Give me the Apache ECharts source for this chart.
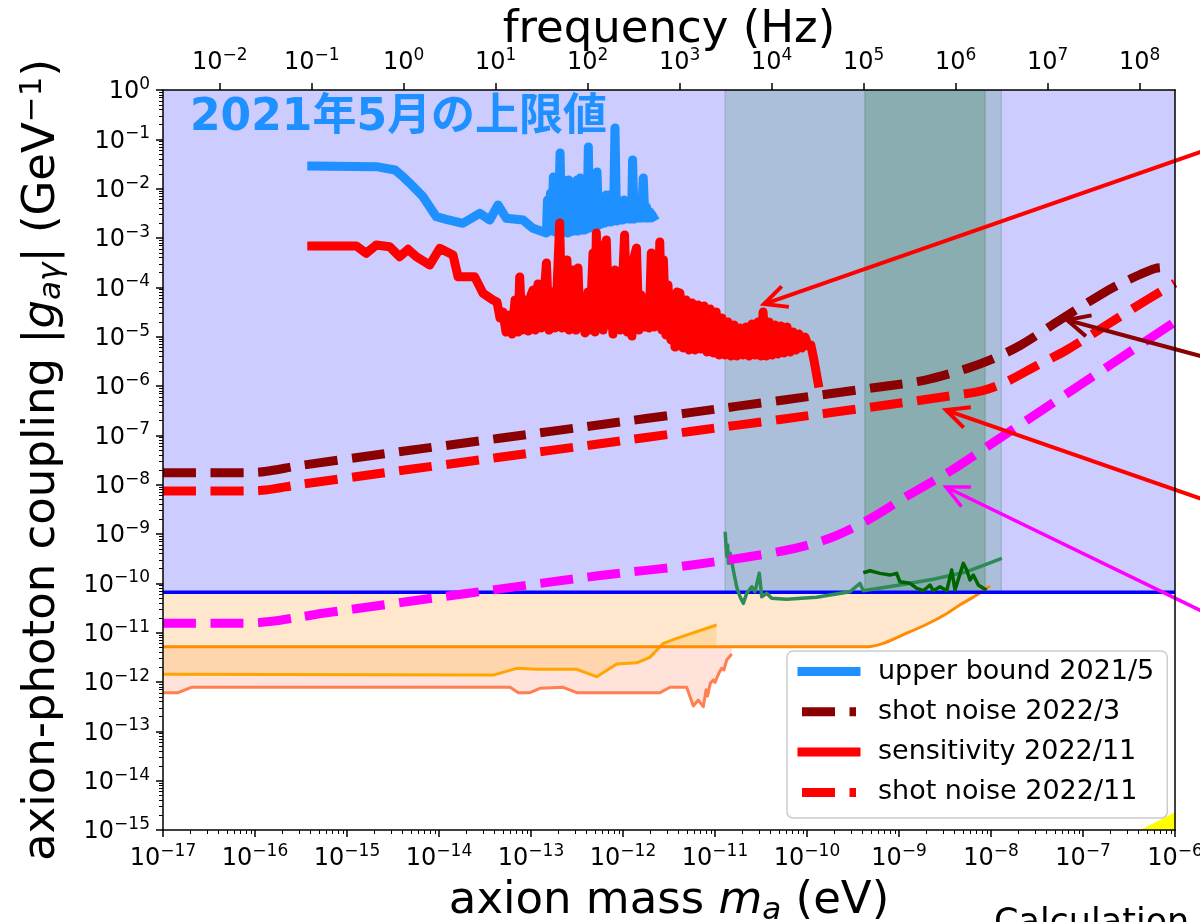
<!DOCTYPE html>
<html><head><meta charset="utf-8">
<script src="https://cdn.jsdelivr.net/npm/echarts@6/dist/echarts.min.js"></script>
<style>html,body{margin:0;padding:0;background:#fff}#c{width:1200px;height:922px}</style>
</head><body><div id="c"></div>
<script>
// ---------- axis ranges & ticks ----------
const HZ_PER_EV = 2.418e14;
const massMin = 1e-17, massMax = 1e-6, gMin = 1e-15, gMax = 1;
const freqTicks = [1e-2, 1e-1, 1, 1e1, 1e2, 1e3, 1e4, 1e5, 1e6, 1e7, 1e8];
const xMinorDecades = [-17,-16,-15,-14,-13,-12,-11,-10,-9,-8,-7];
const yMinorDecades = [-15,-14,-13,-12,-11,-10,-9,-8,-7,-6,-5,-4,-3,-2,-1];
const minorMult = [2,3,4,5,6,7,8,9];

// ---------- upper bound 2021/5 (blue) ----------
const ubMass = [4.14e-16,2.08e-15,3.33e-15,4.06e-15,4.81e-15,6.70e-15,9.35e-15,1.20e-14,1.82e-14,2.77e-14,3.56e-14,4.38e-14,5.39e-14,8.19e-14,1.05e-13,
  1.47e-13,1.51e-13,1.57e-13,1.63e-13,1.69e-13,1.75e-13,1.82e-13,1.89e-13,1.97e-13,2.07e-13,2.15e-13,2.23e-13,2.31e-13,2.40e-13,2.49e-13,2.56e-13,2.65e-13,2.75e-13,2.86e-13,2.97e-13,
  3.08e-13,3.16e-13,3.28e-13,3.41e-13,3.54e-13,3.67e-13,3.81e-13,3.96e-13,4.06e-13,4.20e-13,4.32e-13,4.49e-13,4.66e-13,4.75e-13,4.90e-13,5.09e-13,5.22e-13,5.42e-13,5.62e-13,5.84e-13,
  6.06e-13,6.29e-13,6.53e-13,6.78e-13,7.05e-13,7.31e-13,7.59e-13,7.88e-13,8.18e-13,8.50e-13,8.82e-13,9.16e-13,9.51e-13,9.88e-13,1.03e-12,1.06e-12,1.11e-12,1.15e-12,1.19e-12,1.24e-12,
  1.27e-12,1.32e-12,1.37e-12,1.42e-12,1.47e-12,1.53e-12,1.59e-12,1.66e-12,1.73e-12,1.80e-12,1.87e-12,1.97e-12,2.04e-12,2.13e-12];
const ubG = [0.0288,0.0279,0.0239,0.0175,0.0129,0.00688,0.00270,0.00239,0.00199,0.00317,0.00232,0.00467,0.00251,0.00232,0.00157,
  1.26e-3,5.89e-3,1.39e-3,8.17e-3,1.39e-3,1.72e-2,1.32e-3,9.4e-3,1.32e-3,5.28e-2,1.32e-3,1.50e-2,1.32e-3,1.19e-2,1.26e-3,1.50e-2,1.32e-3,6.78e-3,1.39e-3,9.4e-3,
  1.39e-3,1.50e-2,1.39e-3,1.64e-2,1.45e-3,7.44e-3,1.45e-3,1.03e-2,1.52e-3,7.0e-2,1.60e-3,7.44e-3,1.67e-3,1.08e-2,1.75e-3,9.4e-3,2.18e-2,1.83e-3,6.78e-3,1.92e-3,
  5.89e-3,2.01e-3,7.44e-3,2.11e-3,7.44e-3,2.11e-3,4.67e-3,2.21e-3,0.170,2.21e-3,5.89e-3,2.32e-3,4.67e-3,2.32e-3,5.89e-3,2.43e-3,4.45e-3,2.43e-3,4.67e-3,2.43e-3,
  3.81e-2,2.43e-3,4.67e-3,5.37e-3,2.54e-3,3.69e-3,2.54e-3,1.64e-2,2.54e-3,4.25e-3,2.54e-3,3.36e-3,2.54e-3,2.67e-3];

// ---------- sensitivity 2022/11 (red solid) ----------
const sensMass = [4.14e-16,1.26e-15,1.62e-15,2.08e-15,2.91e-15,3.74e-15,4.61e-15,5.66e-15,7.92e-15,1.02e-14,1.42e-14,1.61e-14,2.44e-14,3.01e-14,3.86e-14,
  4.27e-14,4.60e-14,4.96e-14,5.35e-14,5.77e-14,6.22e-14,6.70e-14,7.22e-14,7.54e-14,7.98e-14,8.61e-14,9.28e-14,1.0e-13,1.05e-13,1.11e-13,1.19e-13,1.28e-13,1.38e-13,1.47e-13,1.57e-13,
  1.69e-13,1.82e-13,1.92e-13,2.05e-13,2.17e-13,2.34e-13,2.46e-13,2.59e-13,2.72e-13,2.86e-13,3.08e-13,3.24e-13,3.41e-13,3.67e-13,3.86e-13,4.16e-13,4.38e-13,4.72e-13,4.96e-13,5.13e-13,
  5.48e-13,5.69e-13,6.06e-13,6.58e-13,7.05e-13,7.46e-13,7.78e-13,8.18e-13,8.82e-13,9.28e-13,9.75e-13,1.04e-12,1.11e-12,1.18e-12,1.25e-12,1.30e-12,1.40e-12,1.49e-12,1.57e-12,1.69e-12,
  1.79e-12,1.92e-12,2.03e-12,2.17e-12,2.30e-12,2.40e-12,2.51e-12,2.65e-12,2.75e-12,2.93e-12,3.08e-12,3.32e-12,3.52e-12,3.67e-12,3.86e-12,4.16e-12,
  4.49e-12,4.84e-12,5.21e-12,5.62e-12,6.07e-12,6.53e-12,7.05e-12,7.59e-12,8.18e-12,8.83e-12,9.51e-12,1.03e-11,1.10e-11,1.19e-11,1.29e-11,1.38e-11,1.49e-11,1.61e-11,1.73e-11,1.87e-11,
  2.01e-11,2.17e-11,2.34e-11,2.52e-11,2.72e-11,2.93e-11,3.16e-11,3.33e-11,3.58e-11,3.86e-11,4.17e-11,4.49e-11,4.84e-11,5.21e-11,5.62e-11,6.07e-11,6.53e-11,7.05e-11,7.59e-11,8.18e-11,
  8.83e-11,9.51e-11,1.03e-10,1.10e-10,1.19e-10,1.32e-10];
const sensG = [6.89e-4,6.89e-4,4.89e-4,7.21e-4,6.65e-4,4.18e-4,5.90e-4,4.18e-4,2.83e-4,6.18e-4,4.52e-4,1.64e-4,1.64e-4,7.57e-5,5.53e-5,
  5.04e-5,2.39e-5,3.16e-5,1.24e-5,2.75e-5,1.13e-5,5.53e-5,1.24e-5,1.62e-4,1.36e-5,5.53e-5,1.30e-5,6.98e-5,8.83e-5,1.36e-5,1.17e-4,1.50e-5,5.53e-5,3.11e-4,1.36e-5,
  8.04e-5,1.50e-5,9.68e-5,2.01e-3,1.50e-5,1.11e-4,3.58e-4,1.36e-5,8.83e-5,2.24e-4,1.36e-5,2.47e-4,1.72e-5,5.53e-5,1.19e-5,8.04e-5,1.36e-5,4.96e-4,1.24e-5,1.26e-3,
  1.64e-5,7.21e-4,1.36e-5,9.10e-4,1.72e-5,5.53e-5,1.13e-5,2.24e-4,1.95e-4,1.36e-5,6.98e-5,1.15e-3,1.24e-5,5.53e-5,1.03e-5,3.58e-4,6.26e-4,1.36e-5,6.98e-5,1.57e-5,
  5.53e-5,1.50e-5,4.96e-4,1.57e-5,5.53e-5,1.64e-5,8.30e-4,1.36e-5,3.58e-4,1.08e-5,1.11e-4,8.55e-6,5.53e-5,6.17e-6,8.04e-5,7.67e-5,
  5.89e-6,5.53e-5,5.36e-6,4.81e-5,5.36e-6,4.39e-5,5.62e-6,4.18e-5,4.89e-6,3.64e-5,4.67e-6,3.16e-5,4.25e-6,2.39e-5,4.25e-6,1.98e-5,4.06e-6,1.72e-5,4.06e-6,1.50e-5,
  4.25e-6,1.57e-5,4.06e-6,1.80e-5,4.25e-6,1.98e-5,4.06e-6,3.16e-5,4.06e-6,1.98e-5,4.25e-6,1.72e-5,4.45e-6,1.64e-5,4.67e-6,1.57e-5,4.89e-6,1.24e-5,5.36e-6,1.13e-5,
  5.89e-6,9.84e-6,6.46e-6,6.78e-6,3.37e-6,1.15e-6];

// ---------- shot noise 2022/3 (dark red dashed) ----------
const sn3Mass = [1e-17,7.76e-17,1.29e-16,3.08e-16,2.44e-15,4.33e-14,5.62e-13,5.60e-12,5.58e-11,5.56e-10,1.93e-9,5.53e-9,9.84e-9,2.12e-8,5.62e-8,1.53e-7,2.52e-7,4.17e-7,6.07e-7,7.78e-7,9.55e-7];
const sn3G = [1.75e-8,1.75e-8,1.85e-8,2.44e-8,4.18e-8,8.61e-8,1.64e-7,2.92e-7,5.22e-7,9.31e-7,1.32e-6,2.28e-6,3.37e-6,6.78e-6,2.18e-5,6.98e-5,1.17e-4,1.82e-4,2.41e-4,2.52e-4,2.14e-4];

// ---------- shot noise 2022/11 (red dashed) ----------
const sn11Mass = [1e-17,7.76e-17,1.29e-16,3.08e-16,2.44e-15,4.33e-14,5.62e-13,5.60e-12,5.58e-11,5.56e-10,3.11e-9,8.13e-9,1.45e-8,3.08e-8,6.65e-8,1.81e-7,4.93e-7,1e-6];
const sn11G = [7.43e-9,7.43e-9,7.78e-9,1.01e-8,1.72e-8,3.55e-8,6.76e-8,1.21e-7,2.15e-7,3.84e-7,6.07e-7,8.09e-7,1.20e-6,2.54e-6,5.37e-6,1.73e-5,5.53e-5,1.22e-4];

// ---------- magenta dashed projection ----------
const magMass = [1e-17,7.41e-17,1.46e-16,3.08e-16,5.48e-16,1.82e-14,5.62e-13,5.60e-12,5.58e-11,1.76e-10,4.59e-10,1.19e-9,3.77e-9,9.84e-9,3.41e-8,9.27e-8,2.74e-7,1e-6];
const magG = [1.55e-11,1.55e-11,1.68e-11,2.07e-11,2.47e-11,6.07e-11,1.44e-10,2.35e-10,4.58e-10,8.18e-10,1.92e-9,5.70e-9,1.98e-8,6.52e-8,3.04e-7,1.05e-6,4.0e-6,2.01e-5];

// ---------- CAST-like horizontal bound ----------
const castMass = [1e-17, 1e-6];
const castG = [6.6e-11, 6.6e-11];

// ---------- orange / gold / coral bounds ----------
const orMass = [1e-17,4.59e-10,6.73e-10,1.09e-9,1.93e-9,3.11e-9,4.57e-9,7.0e-9,9.75e-9];
const orG = [5.19e-12,5.19e-12,6.08e-12,8.95e-12,1.43e-11,2.28e-11,3.63e-11,5.79e-11,8.81e-11];
const goldMass = [1e-17,3.89e-14,7.0e-14,1.15e-13,3.14e-13,5.18e-13,8.55e-13,1.41e-12,1.96e-12,2.74e-12,3.84e-12,1.04e-11];
const goldG = [1.43e-12,1.38e-12,1.89e-12,1.81e-12,1.81e-12,1.28e-12,2.31e-12,2.45e-12,3.16e-12,6.08e-12,7.67e-12,1.43e-11];
const coralMass = [1e-17,1.46e-17,1.79e-17,2.03e-17,5.92e-14,7.28e-14,9.75e-14,1.25e-13,2.24e-13,3.14e-13,2.52e-12,3.24e-12,4.92e-12,5.81e-12,6.58e-12,7.46e-12,8.0e-12,8.3e-12,8.9e-12,9.59e-12,1.0e-11,1.1e-11,1.18e-11,1.25e-11,1.34e-11,1.52e-11];
const coralG = [6.07e-13,6.07e-13,7.1e-13,7.81e-13,7.81e-13,6.07e-13,6.07e-13,7.43e-13,7.81e-13,6.07e-13,6.07e-13,7.81e-13,7.81e-13,3.26e-13,4.31e-13,3.16e-13,7.0e-13,5.2e-13,9.5e-13,1.10e-12,9.8e-13,1.5e-12,1.89e-12,1.75e-12,2.79e-12,3.69e-12];

// ---------- green curves ----------
const sgMass = [1.29e-11,1.34e-11,1.37e-11,1.40e-11,1.46e-11,1.58e-11,1.72e-11,1.87e-11,2.03e-11,2.21e-11,2.51e-11,2.72e-11,3.03e-11,3.22e-11,3.65e-11,4.13e-11,6.01e-11,1.27e-10,2.93e-10,3.77e-10,4.09e-10,1.02e-9,2.36e-9,5.45e-9,8.98e-9,1.31e-8];
const sgG = [1.11e-9,3.5e-10,6.0e-10,2.54e-10,4.06e-10,1.86e-10,8.53e-11,5.35e-11,3.93e-11,6.27e-11,8.53e-11,6.76e-11,1.60e-10,5.35e-11,6.27e-11,4.97e-11,4.74e-11,5.20e-11,6.76e-11,1.0e-10,7.08e-11,9.25e-11,1.21e-10,1.72e-10,2.46e-10,3.21e-10];
const dgMass = [4.09e-10,4.84e-10,6.21e-10,7.98e-10,9.44e-10,1.02e-9,1.32e-9,1.56e-9,1.84e-9,2.17e-9,2.36e-9,2.79e-9,3.30e-9,3.74e-9,4.06e-9,5.0e-9,5.45e-9,5.91e-9,6.43e-9,7.28e-9,8.26e-9,8.98e-9];
const dgG = [1.64e-10,1.80e-10,1.59e-10,1.47e-10,1.59e-10,1.08e-10,1.0e-10,7.92e-11,7.08e-11,9.25e-11,7.08e-11,8.53e-11,7.08e-11,1.86e-10,7.31e-11,2.54e-10,1.86e-10,1.17e-10,1.47e-10,9.25e-11,7.92e-11,7.31e-11];

// ---------- vertical bands (mass ranges) ----------
const bandLoMass = [1.29e-11, 4.27e-10];
const bandHiMass = [1.29e-8, 8.6e-9];
const bandFill = ['#abbfdb', '#8aadb1'];
const bandEdge = ['#98adc8', '#7a9e9c'];

// ---------- yellow corner region ----------
const triMass = [4.17e-7, 1e-6, 1e-6];
const triG = [1e-15, 2.3e-15, 1e-15];

// ---------- annotation arrows (tail outside axes -> tip) ----------
const arrowTipMass = [3.41e-11, 6.70e-8, 3.24e-9, 3.24e-9];
const arrowTipG = [4.59e-5, 2.18e-5, 3.26e-7, 8.95e-9];
const arrowTailMass = [2.72e-6, 2.72e-6, 2.72e-6, 2.72e-6];
const arrowTailG = [0.0706, 3.37e-6, 4.13e-9, 2.03e-11];
const arrowColor = ['#ff0000', '#8b0000', '#ff0000', '#ff00ff'];
const arrowWidth = [4, 4, 4, 3.5];

// ---------- helpers ----------
const FONT = 'DejaVu Sans';
function pow10Label(v) {
  const e = Math.round(Math.log10(v));
  return '{b|10}{s|' + (e < 0 ? '\u2212' + (-e) : String(e)) + '}';
}
const richTick = {
  b: {fontFamily: FONT, fontSize: 24, lineHeight: 28, color: '#000', verticalAlign: 'bottom'},
  s: {fontFamily: FONT, fontSize: 17, lineHeight: 17, color: '#000', verticalAlign: 'top'}
};
const richName = {
  t: {fontFamily: FONT, fontSize: 45, lineHeight: 50, color: '#000'},
  i: {fontFamily: FONT, fontSize: 45, lineHeight: 50, color: '#000', fontStyle: 'italic'},
  sub: {fontFamily: FONT, fontSize: 31, lineHeight: 31, color: '#000', fontStyle: 'italic', verticalAlign: 'bottom'},
  sup: {fontFamily: FONT, fontSize: 31, lineHeight: 31, color: '#000', verticalAlign: 'top'}
};
const xMinor = [], yMinor = [];
xMinorDecades.forEach(e => minorMult.forEach(k => xMinor.push(k * Math.pow(10, e))));
yMinorDecades.forEach(e => minorMult.forEach(k => yMinor.push(k * Math.pow(10, e))));

function pairs(ms, gs) { return ms.map((m, i) => [m, gs[i]]); }

function polySeries(name, ms, gs, closeMs, closeGs, fill, z) {
  return {
    name: name, type: 'custom', silent: true, z: z, clip: true,
    data: [[ms[0], gs[0]]],
    renderItem: function (params, api) {
      const pts = [];
      for (let i = 0; i < ms.length; i++) pts.push(api.coord([ms[i], gs[i]]));
      for (let i = 0; i < closeMs.length; i++) pts.push(api.coord([closeMs[i], closeGs[i]]));
      return {type: 'polygon', shape: {points: pts}, style: {fill: fill}};
    }
  };
}
function lineSeries(name, ms, gs, color, width, opts) {
  opts = opts || {};
  return {
    name: name, type: 'line', data: pairs(ms, gs), showSymbol: false, symbol: 'none',
    silent: true, z: 3, clip: true,
    lineStyle: {color: color, width: width, type: opts.dash || 'solid', cap: opts.cap || 'butt', join: 'round'},
    itemStyle: {color: color},
    smooth: opts.smooth || false
  };
}

const orFlat = orG[0];
const series = [
  polySeries('fill-orange', orMass, orG, [orMass[orMass.length - 1], orMass[0]], [gMax, gMax], '#ffe7cd', 1),
  polySeries('fill-coral', coralMass, coralG, [coralMass[coralMass.length - 1], coralMass[0]], [orFlat, orFlat], '#ffe2da', 1),
  polySeries('fill-gold', goldMass, goldG, [goldMass[goldMass.length - 1], goldMass[0]], [orFlat, orFlat], 'rgba(255,165,0,0.2)', 1),
  polySeries('excluded', [massMin, massMax], [castG[0], castG[1]], [massMax, massMin], [gMax, gMax], '#ccccff', 1),
  {
    name: 'bands', type: 'custom', silent: true, z: 1, clip: true,
    data: bandLoMass.map((m, i) => [m, castG[0]]),
    renderItem: function (params, api) {
      const i = params.dataIndex;
      const p0 = api.coord([bandLoMass[i], castG[0]]);
      const p1 = api.coord([bandHiMass[i], gMax]);
      return {type: 'rect', shape: {x: p0[0], y: p1[1], width: p1[0] - p0[0], height: p0[1] - p1[1]},
        style: {fill: bandFill[i], stroke: bandEdge[i], lineWidth: 1.2}};
    }
  },
  polySeries('yellow', triMass, triG, [], [], '#ffff00', 1),
  lineSeries('coral', coralMass, coralG, '#ff7f50', 3),
  lineSeries('gold', goldMass, goldG, '#ffa500', 3),
  lineSeries('darkorange', orMass, orG, '#ff8c00', 3, {smooth: 0.3}),
  lineSeries('cast', castMass, castG, '#0000ff', 3.5),
  lineSeries('seagreen', sgMass, sgG, '#2e8b57', 3.5),
  lineSeries('darkgreen', dgMass, dgG, '#006400', 3.5),
  lineSeries('projection', magMass, magG, '#ff00ff', 9, {dash: [33, 14.5], smooth: 0.3}),
  lineSeries('shot noise 2022/11', sn11Mass, sn11G, '#ff0000', 9, {dash: [33, 14.5], smooth: 0.3}),
  lineSeries('shot noise 2022/3', sn3Mass, sn3G, '#8b0000', 9, {dash: [33, 14.5], smooth: 0.3}),
  lineSeries('upper bound 2021/5', ubMass, ubG, '#1e90ff', 9, {cap: 'square'}),
  lineSeries('sensitivity 2022/11', sensMass, sensG, '#ff0000', 9, {cap: 'square'}),
  {
    name: 'arrows', type: 'custom', silent: true, z: 6, clip: false,
    data: pairs(arrowTipMass, arrowTipG),
    renderItem: function (params, api) {
      const i = params.dataIndex;
      const tip = api.coord([arrowTipMass[i], arrowTipG[i]]);
      const tail = api.coord([arrowTailMass[i], arrowTailG[i]]);
      const ang = Math.atan2(tail[1] - tip[1], tail[0] - tip[0]);
      const L = 25, a = 0.45;
      const p1 = [tip[0] + L * Math.cos(ang + a), tip[1] + L * Math.sin(ang + a)];
      const p2 = [tip[0] + L * Math.cos(ang - a), tip[1] + L * Math.sin(ang - a)];
      const st = {stroke: arrowColor[i], lineWidth: arrowWidth[i], fill: null, lineJoin: 'miter'};
      return {type: 'group', children: [
        {type: 'line', shape: {x1: tail[0], y1: tail[1], x2: tip[0], y2: tip[1]}, style: st},
        {type: 'polyline', shape: {points: [p1, tip, p2]}, style: st}
      ]};
    }
  }
];

const spine = {show: true, onZero: false, lineStyle: {color: '#000', width: 1.5}};
const option = {
  animation: false,
  backgroundColor: '#fff',
  textStyle: {fontFamily: FONT},
  grid: {left: 163, right: 25, top: 90, bottom: 92, containLabel: false, outerBoundsMode: 'none'},
  legend: {
    orient: 'vertical', left: 787, top: 651, padding: [7, 13, 12, 10.5],
    itemWidth: 54, itemHeight: 9, itemGap: 13.3,
    backgroundColor: 'rgba(255,255,255,0.85)', borderColor: '#cccccc', borderWidth: 1.5, borderRadius: 6,
    textStyle: {fontFamily: FONT, fontSize: 27, lineHeight: 27, color: '#000', padding: [0, 0, 0, 17]},
    lineStyle: {width: 9},
    data: ['upper bound 2021/5', 'shot noise 2022/3', 'sensitivity 2022/11', 'shot noise 2022/11']
  },
  xAxis: [
    {type: 'log', logBase: 10, min: massMin, max: massMax, interval: 1, position: 'bottom', z: 10,
      axisLine: spine, splitLine: {show: false},
      axisTick: {show: true, length: 7, lineStyle: {color: '#000', width: 1.5}},
      axisLabel: {margin: 13, formatter: pow10Label, rich: richTick},
      name: '{t|axion mass }{i|m}{sub|a}{t| (eV)}', nameLocation: 'middle', nameGap: 46, nameMoveOverlap: false,
      nameTextStyle: {rich: richName}},
    {type: 'log', logBase: 10, min: massMin * HZ_PER_EV, max: massMax * HZ_PER_EV, position: 'top', z: 10,
      axisLine: spine, splitLine: {show: false},
      axisTick: {show: true, length: 7, lineStyle: {color: '#000', width: 1.5}, customValues: freqTicks},
      axisLabel: {margin: 15, formatter: pow10Label, rich: richTick, customValues: freqTicks},
      name: 'frequency (Hz)', nameLocation: 'middle', nameGap: 37, nameMoveOverlap: false,
      nameTextStyle: {fontFamily: FONT, fontSize: 45, color: '#000'}},
    {type: 'log', logBase: 10, min: massMin, max: massMax, position: 'bottom', z: 10,
      axisLine: {show: false}, splitLine: {show: false}, axisLabel: {show: false},
      axisTick: {show: true, length: 4, lineStyle: {color: '#000', width: 1}, customValues: xMinor}}
  ],
  yAxis: [
    {type: 'log', logBase: 10, min: gMin, max: gMax, interval: 1, position: 'left', z: 10,
      axisLine: spine, splitLine: {show: false},
      axisTick: {show: true, length: 7, lineStyle: {color: '#000', width: 1.5}},
      axisLabel: {margin: 13, formatter: pow10Label, rich: richTick},
      name: '{t|axion-photon coupling |}{i|g}{sub|a\u03b3}{t|| (GeV}{sup|\u22121}{t|)}',
      nameLocation: 'middle', nameRotate: 90, nameGap: 96, nameMoveOverlap: false,
      nameTextStyle: {rich: richName}},
    {type: 'log', logBase: 10, min: gMin, max: gMax, position: 'left', z: 10,
      axisLine: {show: false}, splitLine: {show: false}, axisLabel: {show: false},
      axisTick: {show: true, length: 4, lineStyle: {color: '#000', width: 1}, customValues: yMinor}},
    {type: 'log', logBase: 10, min: gMin, max: gMax, position: 'right', z: 10,
      axisLine: spine, splitLine: {show: false}, axisLabel: {show: false}, axisTick: {show: false}}
  ],
  graphic: [
    {type: 'text', left: 190, top: 97, z: 20, silent: true,
      style: {text: '2021年5月の上限値', fill: '#1e90ff', font: 'bold 44px "DejaVu Sans", "Noto Sans CJK JP"'}},
    {type: 'text', left: 994, top: 906, z: 20, silent: true,
      style: {text: 'Calculation', fill: '#000', font: '35px "DejaVu Sans"'}}
  ],
  series: series
};
const chart = echarts.init(document.getElementById('c'), null, {renderer: 'canvas'});
chart.setOption(option);
</script></body></html>
